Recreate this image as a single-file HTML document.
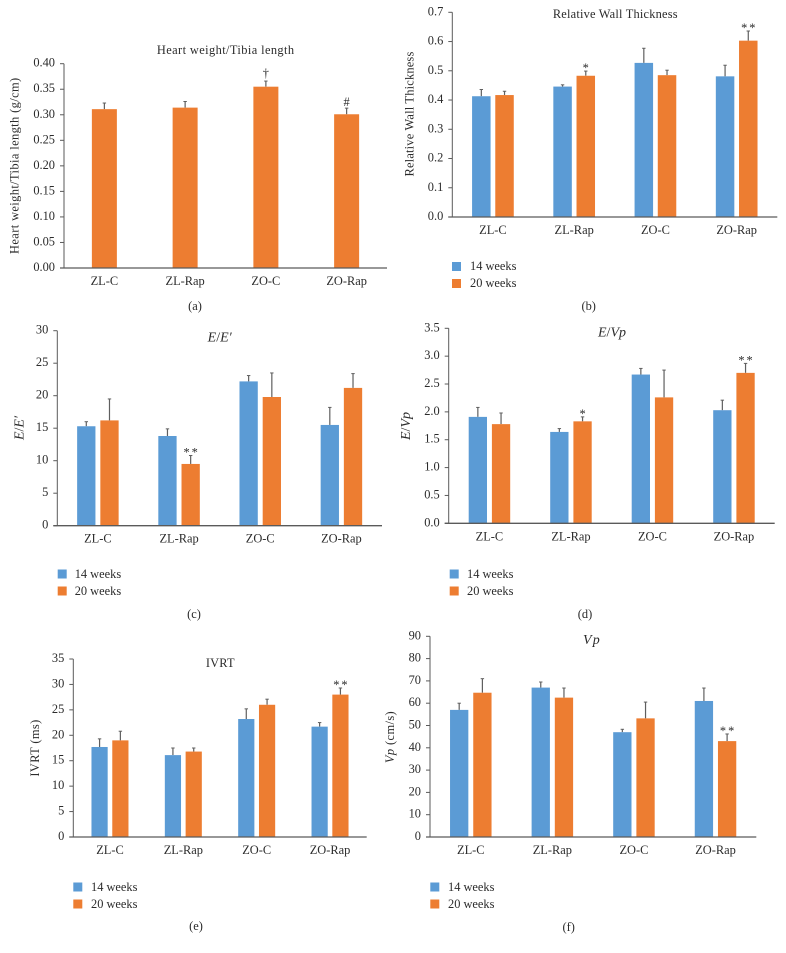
<!DOCTYPE html>
<html lang="en">
<head>
<meta charset="utf-8">
<title>Cardiac measures by group</title>
<style>
html,body{margin:0;padding:0;background:#fff;}
svg{display:block;}
text{font-family:"Liberation Serif",serif;font-size:12.4px;fill:#2b2b2b;}
.mid{text-anchor:middle;}
.it{font-style:italic;}
.wide{letter-spacing:.4px;}
.wider{letter-spacing:.2px;}
.big{font-size:14px;}
</style>
</head>
<body>
<svg id="figure" width="786" height="953" viewBox="0 0 786 953" xmlns="http://www.w3.org/2000/svg">
  <rect width="786" height="953" fill="#ffffff"/>

  <g id="panel-a">
    <text class="mid wide" x="225.7" y="54">Heart weight/Tibia length</text>
    <text class="mid wide" transform="translate(18.5,165.7) rotate(-90)">Heart weight/Tibia length (g/cm)</text>
    <text class="mid" x="195" y="310">(a)</text>
  </g>

  <g id="panel-b">
    <text class="mid wider" x="615.3" y="18">Relative Wall Thickness</text>
    <text class="mid wider" transform="translate(413.5,114) rotate(-90)">Relative Wall Thickness</text>
    <rect x="452" y="262" width="9" height="9" fill="#5b9bd5"/>
    <text x="470" y="270">14 weeks</text>
    <rect x="452" y="279" width="9" height="9" fill="#ed7d31"/>
    <text x="470" y="287">20 weeks</text>
    <text class="mid" x="588.7" y="310">(b)</text>
  </g>

  <g id="panel-c">
    <text class="mid big" x="219.7" y="341.5"><tspan class="it">E</tspan>/<tspan class="it">E′</tspan></text>
    <text class="mid big" transform="translate(23.5,428) rotate(-90)"><tspan class="it">E</tspan>/<tspan class="it">E′</tspan></text>
    <rect x="57.7" y="569.5" width="9" height="9" fill="#5b9bd5"/>
    <text x="74.7" y="578">14 weeks</text>
    <rect x="57.7" y="586.5" width="9" height="9" fill="#ed7d31"/>
    <text x="74.7" y="595">20 weeks</text>
    <text class="mid" x="194" y="618">(c)</text>
  </g>

  <g id="panel-d">
    <text class="mid big" x="612" y="336.5"><tspan class="it">E</tspan>/<tspan class="it">Vp</tspan></text>
    <text class="mid big" transform="translate(410,426) rotate(-90)"><tspan class="it">E</tspan>/<tspan class="it">Vp</tspan></text>
    <rect x="449.7" y="569.5" width="9" height="9" fill="#5b9bd5"/>
    <text x="467" y="578">14 weeks</text>
    <rect x="449.7" y="586.5" width="9" height="9" fill="#ed7d31"/>
    <text x="467" y="595">20 weeks</text>
    <text class="mid" x="585" y="618">(d)</text>
  </g>

  <g id="panel-e">
    <text class="mid wider" x="220.3" y="667">IVRT</text>
    <text class="mid wide" transform="translate(39,748) rotate(-90)">IVRT (ms)</text>
    <rect x="73.3" y="882.5" width="9" height="9" fill="#5b9bd5"/>
    <text x="91" y="891">14 weeks</text>
    <rect x="73.3" y="899.5" width="9" height="9" fill="#ed7d31"/>
    <text x="91" y="908">20 weeks</text>
    <text class="mid" x="196" y="930">(e)</text>
  </g>

  <g id="panel-f">
    <text class="mid big" x="592" y="644" letter-spacing="1.2"><tspan class="it">Vp</tspan></text>
    <text class="mid wide" transform="translate(394,737) rotate(-90)"><tspan class="it">Vp</tspan> (cm/s)</text>
    <rect x="430.3" y="882.5" width="9" height="9" fill="#5b9bd5"/>
    <text x="448" y="891">14 weeks</text>
    <rect x="430.3" y="899.5" width="9" height="9" fill="#ed7d31"/>
    <text x="448" y="908">20 weeks</text>
    <text class="mid" x="568.7" y="931">(f)</text>
  </g>
</svg>

<script>
const categories = ['ZL-C', 'ZL-Rap', 'ZO-C', 'ZO-Rap'];

const aTicks = ['0.00', '0.05', '0.10', '0.15', '0.20', '0.25', '0.30', '0.35', '0.40'];
const aValues = [0.311, 0.314, 0.355, 0.301];
const aErrorTops = [0.323, 0.326, 0.366, 0.313];
const aMarks = ['', '', '†', '#'];

const bTicks = ['0.0', '0.1', '0.2', '0.3', '0.4', '0.5', '0.6', '0.7'];
const bWeeks14 = [0.413, 0.446, 0.527, 0.481];
const bWeeks20 = [0.417, 0.483, 0.485, 0.603];
const bErrorTops14 = [0.436, 0.452, 0.577, 0.519];
const bErrorTops20 = [0.430, 0.499, 0.502, 0.636];
const bMarks20 = ['', '*', '', '**'];

const cTicks = ['0', '5', '10', '15', '20', '25', '30'];
const cWeeks14 = [15.3, 13.8, 22.2, 15.5];
const cWeeks20 = [16.2, 9.5, 19.8, 21.2];
const cErrorTops14 = [16.0, 14.9, 23.1, 18.2];
const cErrorTops20 = [19.5, 10.8, 23.5, 23.4];
const cMarks20 = ['', '**', '', ''];

const dTicks = ['0.0', '0.5', '1.0', '1.5', '2.0', '2.5', '3.0', '3.5'];
const dWeeks14 = [1.91, 1.64, 2.67, 2.03];
const dWeeks20 = [1.78, 1.83, 2.26, 2.70];
const dErrorTops14 = [2.08, 1.70, 2.78, 2.21];
const dErrorTops20 = [1.98, 1.91, 2.75, 2.87];
const dMarks20 = ['', '*', '', '**'];

const eTicks = ['0', '5', '10', '15', '20', '25', '30', '35'];
const eWeeks14 = [17.7, 16.1, 23.2, 21.7];
const eWeeks20 = [19.0, 16.8, 26.0, 28.0];
const eErrorTops14 = [19.3, 17.5, 25.2, 22.5];
const eErrorTops20 = [20.8, 17.5, 27.1, 29.3];
const eMarks20 = ['', '', '', '**'];

const fTicks = ['0', '10', '20', '30', '40', '50', '60', '70', '80', '90'];
const fWeeks14 = [57, 67, 47, 61];
const fWeeks20 = [64.7, 62.5, 53.2, 43];
const fErrorTops14 = [60, 69.5, 48.3, 66.8];
const fErrorTops20 = [71, 66.8, 60.5, 46.2];
const fMarks20 = ['', '', '', '**'];

const BLUE = '#5b9bd5';
const ORANGE = '#ed7d31';
const AXIS = '#5a5a5a';
const SVG_NS = 'http://www.w3.org/2000/svg';

function make(parent, tag, attrs, text) {
  const node = document.createElementNS(SVG_NS, tag);
  for (const key in attrs) node.setAttribute(key, attrs[key]);
  if (text !== undefined) node.textContent = text;
  parent.appendChild(node);
  return node;
}

function drawSeries(group, frame, scaleX, scaleY, values, tops, marks, color, offset, width, seriesName) {
  values.forEach(function (value, i) {
    const cx = scaleX(i) + offset;
    const barTop = scaleY(value);
    const errTop = scaleY(tops[i]);

    const stem = make(group, 'line', { x1: cx, x2: cx, y1: barTop, y2: errTop, stroke: '#5f5f5f', 'stroke-width': 1.2 });
    
    

    const cap = make(group, 'line', { x1: cx - 1.7, x2: cx + 1.7, y1: errTop, y2: errTop, stroke: '#5f5f5f', 'stroke-width': 1 });
    
    

    const bar = make(group, 'rect', { x: cx - width / 2, y: barTop, width: width, height: frame.bottom - barTop, fill: color });
    
    

    const mark = marks ? marks[i] : '';
    if (mark) {
      const lift = mark === '†' ? 4.3 : mark === '#' ? 2.3 : -1;
      const label = make(group, 'text', { class: 'mid', x: cx + (mark === '**' ? 1 : 0), y: errTop - lift, 'letter-spacing': mark === '**' ? 2 : 0 }, mark);
      
      
    }
  });
}

function drawPanel(id, frame, ticks, series) {
  const group = document.getElementById(id);
  const maxValue = parseFloat(ticks[ticks.length - 1]);
  const scaleY = function (v) { return frame.bottom - (v / maxValue) * (frame.bottom - frame.top); };
  const band = (frame.right - frame.left) / categories.length;
  const scaleX = function (i) { return frame.left + band * (i + 0.5); };

  series.forEach(function (s) {
    drawSeries(group, frame, scaleX, scaleY, s.values, s.tops, s.marks, s.color, s.offset, frame.barWidth, s.name);
  });

  const yAxis = make(group, 'line', { x1: frame.left, x2: frame.left, y1: frame.top, y2: frame.bottom, stroke: AXIS, 'stroke-width': 1 });
  
  

  const xAxis = make(group, 'line', { x1: frame.left - 4, x2: frame.right, y1: frame.bottom, y2: frame.bottom, stroke: AXIS, 'stroke-width': 1.3 });
  
  

  ticks.forEach(function (tick) {
    const y = scaleY(parseFloat(tick));
    const mark = make(group, 'line', { x1: frame.left - 4, x2: frame.left, y1: y, y2: y, stroke: AXIS, 'stroke-width': 1 });
    
    

    const label = make(group, 'text', { x: frame.left - 9, y: y + 3, 'text-anchor': 'end' }, tick);
    
    
  });

  categories.forEach(function (name, i) {
    const label = make(group, 'text', { class: 'mid', x: scaleX(i), y: frame.bottom + 17 }, name);
    
    
  });
}

drawPanel('panel-a', { left: 64, right: 387, top: 63.7, bottom: 268, barWidth: 25 }, aTicks, [
  { name: 'heart-weight', values: aValues, tops: aErrorTops, marks: aMarks, color: ORANGE, offset: 0 }
]);
drawPanel('panel-b', { left: 452.3, right: 777.3, top: 12.3, bottom: 217, barWidth: 18.5 }, bTicks, [
  { name: '14-weeks', values: bWeeks14, tops: bErrorTops14, marks: null, color: BLUE, offset: -11.6 },
  { name: '20-weeks', values: bWeeks20, tops: bErrorTops20, marks: bMarks20, color: ORANGE, offset: 11.6 }
]);
drawPanel('panel-c', { left: 57.3, right: 382, top: 330.7, bottom: 525.7, barWidth: 18.3 }, cTicks, [
  { name: '14-weeks', values: cWeeks14, tops: cErrorTops14, marks: null, color: BLUE, offset: -11.6 },
  { name: '20-weeks', values: cWeeks20, tops: cErrorTops20, marks: cMarks20, color: ORANGE, offset: 11.6 }
]);
drawPanel('panel-d', { left: 448.7, right: 774.7, top: 328.3, bottom: 523.3, barWidth: 18.3 }, dTicks, [
  { name: '14-weeks', values: dWeeks14, tops: dErrorTops14, marks: null, color: BLUE, offset: -11.6 },
  { name: '20-weeks', values: dWeeks20, tops: dErrorTops20, marks: dMarks20, color: ORANGE, offset: 11.6 }
]);
drawPanel('panel-e', { left: 73.3, right: 366.7, top: 659, bottom: 837, barWidth: 16.2 }, eTicks, [
  { name: '14-weeks', values: eWeeks14, tops: eErrorTops14, marks: null, color: BLUE, offset: -10.4 },
  { name: '20-weeks', values: eWeeks20, tops: eErrorTops20, marks: eMarks20, color: ORANGE, offset: 10.4 }
]);
drawPanel('panel-f', { left: 430, right: 756.3, top: 636.3, bottom: 837, barWidth: 18.3 }, fTicks, [
  { name: '14-weeks', values: fWeeks14, tops: fErrorTops14, marks: null, color: BLUE, offset: -11.6 },
  { name: '20-weeks', values: fWeeks20, tops: fErrorTops20, marks: fMarks20, color: ORANGE, offset: 11.6 }
]);
</script>
</body>
</html>
